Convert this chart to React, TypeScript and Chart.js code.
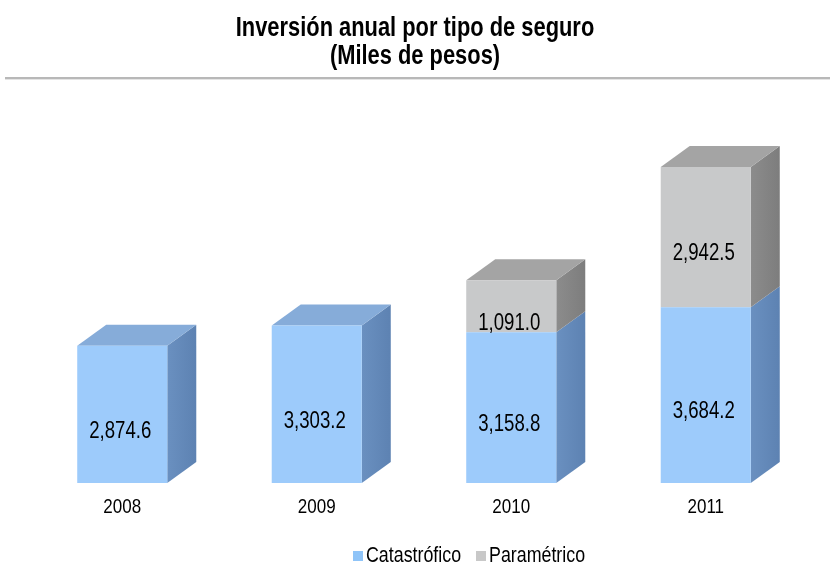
import { useEffect, useRef } from "react";
import { Chart, registerables } from "chart.js";

Chart.register(...registerables);

// ---- data ----
const years = ["2008", "2009", "2010", "2011"];
const catastrofico = [2874.6, 3303.2, 3158.8, 3684.2];
const parametrico: (number | null)[] = [null, null, 1091.0, 2942.5];
const seriesNames = ["Catastrófico", "Paramétrico"];
const titleLines = ["Inversión anual por tipo de seguro", "(Miles de pesos)"];

// ---- style ----
const W = 830;
const H = 581;
const SX = 0.81; // horizontal condensation of all text (narrow face look)
const FONT = '"Liberation Sans", Arial, sans-serif';
const DEPTH_X = 29;
const DEPTH_Y = 21;
const FRONT = ["#9dcbfb", "#c8c9ca"];
const SIDE = ["#6a90c0", "#8c8c8c"];
const SIDE_DARK = ["#5d82b2", "#7d7d7d"];
const TOP = ["#86acd9", "#a4a4a4"];
const LEGEND_SWATCH = ["#8fc4f8", "#c8c8c8"];

function drawText(
  ctx: CanvasRenderingContext2D,
  s: string,
  x: number,
  y: number,
  size: number,
  bold = false,
  align: CanvasTextAlign = "center"
) {
  ctx.save();
  ctx.font = `${bold ? "bold " : ""}${size}px ${FONT}`;
  ctx.textAlign = align;
  ctx.textBaseline = "middle";
  ctx.fillStyle = "#000";
  ctx.translate(x, y);
  ctx.scale(SX, 1);
  ctx.fillText(s, 0, 0);
  ctx.restore();
}

function fmt(v: number) {
  return v.toLocaleString("en-US", { minimumFractionDigits: 1, maximumFractionDigits: 1 });
}

const threeD = {
  id: "threeD",
  beforeDatasetsDraw(chart: any) {
    const ctx: CanvasRenderingContext2D = chart.ctx;
    const n = chart.data.labels.length;
    const nd = chart.data.datasets.length;
    for (let i = 0; i < n; i++) {
      let topDs = -1;
      for (let d = 0; d < nd; d++) {
        const v = chart.data.datasets[d].data[i];
        if (v !== null && v !== undefined) topDs = d;
      }
      for (let d = 0; d < nd; d++) {
        const v = chart.data.datasets[d].data[i];
        if (v === null || v === undefined) continue;
        const el = chart.getDatasetMeta(d).data[i];
        const p = el.getProps(["x", "y", "base", "width"], true);
        const left = p.x - p.width / 2;
        const right = p.x + p.width / 2;
        const top = Math.min(p.y, p.base);
        const bottom = Math.max(p.y, p.base);
        const g = ctx.createLinearGradient(right, 0, right + DEPTH_X, 0);
        g.addColorStop(0, SIDE[d]);
        g.addColorStop(1, SIDE_DARK[d]);
        ctx.fillStyle = g;
        ctx.beginPath();
        ctx.moveTo(right, top);
        ctx.lineTo(right + DEPTH_X, top - DEPTH_Y);
        ctx.lineTo(right + DEPTH_X, bottom - DEPTH_Y);
        ctx.lineTo(right, bottom);
        ctx.closePath();
        ctx.fill();
        if (d === topDs) {
          ctx.fillStyle = TOP[d];
          ctx.beginPath();
          ctx.moveTo(left, top);
          ctx.lineTo(left + DEPTH_X, top - DEPTH_Y);
          ctx.lineTo(right + DEPTH_X, top - DEPTH_Y);
          ctx.lineTo(right, top);
          ctx.closePath();
          ctx.fill();
        }
      }
    }
  },
};

const texts = {
  id: "texts",
  afterDraw(chart: any) {
    const ctx: CanvasRenderingContext2D = chart.ctx;
    // title
    drawText(ctx, titleLines[0], W / 2, 29, 27, true);
    drawText(ctx, titleLines[1], W / 2, 57, 27, true);
    // separator
    ctx.save();
    ctx.fillStyle = "#b8b8b8";
    ctx.fillRect(5, 77, W - 5, 2);
    ctx.fillStyle = "#e4e4e4";
    ctx.fillRect(5, 79, W - 5, 1);
    ctx.restore();
    // data labels
    chart.data.datasets.forEach((ds: any, d: number) => {
      const meta = chart.getDatasetMeta(d);
      ds.data.forEach((v: number | null, i: number) => {
        if (v === null || v === undefined) return;
        const p = meta.data[i].getProps(["x", "y", "base"], true);
        const cy = (p.y + p.base) / 2 + 17;
        drawText(ctx, fmt(v), p.x - 2, cy, 23);
      });
    });
    // category labels
    const xs = chart.scales.x;
    chart.data.labels.forEach((lab: string, i: number) => {
      drawText(ctx, lab, xs.getPixelForValue(i), 507, 21);
    });
    // legend
    let lx = 353;
    chart.data.datasets.forEach((ds: any, d: number) => {
      ctx.fillStyle = LEGEND_SWATCH[d];
      ctx.fillRect(lx, 551, 10, 10);
      drawText(ctx, ds.label, lx + 13, 556, 22, false, "left");
      lx += 123;
    });
  },
};

export default function App() {
  const ref = useRef<HTMLCanvasElement | null>(null);
  useEffect(() => {
    document.body.style.margin = "0";
    const canvas = ref.current!;
    const chart = new Chart(canvas, {
      type: "bar",
      data: {
        labels: years,
        datasets: [
          { label: seriesNames[0], data: catastrofico, backgroundColor: FRONT[0] },
          { label: seriesNames[1], data: parametrico as any, backgroundColor: FRONT[1] },
        ],
      },
      options: {
        responsive: false,
        animation: false,
        events: [],
        layout: { padding: { top: 130, left: 25, right: 27, bottom: 0 } },
        datasets: { bar: { categoryPercentage: 1, barPercentage: 0.463 } } as any,
        plugins: {
          legend: { display: false },
          title: { display: false },
          tooltip: { enabled: false },
        },
        scales: {
          x: {
            stacked: true,
            grid: { display: false, drawTicks: false },
            border: { display: false },
            ticks: { display: false },
            afterFit: (s: any) => {
              s.height = 98;
            },
          },
          y: { stacked: true, display: false, min: 0, max: 7400 },
        },
      },
      plugins: [threeD, texts],
    });
    return () => chart.destroy();
  }, []);
  return (
    <div style={{ width: W, height: H, background: "#fff" }}>
      <canvas ref={ref} width={W} height={H} style={{ display: "block", width: W, height: H }} />
    </div>
  );
}
